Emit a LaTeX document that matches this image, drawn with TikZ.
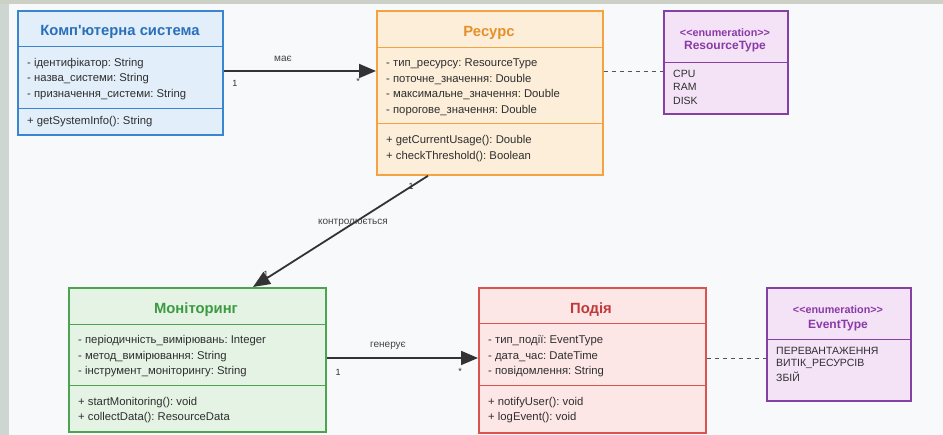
\documentclass[tikz,border=0pt]{standalone}
\usepackage{fontspec}
\setmainfont{Liberation Sans}[Ligatures=TeXOff]
\usetikzlibrary{arrows.meta}
\frenchspacing
\definecolor{bgc}{HTML}{F8F9FA}
\definecolor{leftc}{HTML}{CDD6D0}
\definecolor{topc}{HTML}{CDD0C6}
\definecolor{txt}{HTML}{2E2E2E}
\definecolor{blueB}{HTML}{3A85D0}
\definecolor{blueF}{HTML}{E2EFFA}
\definecolor{blueT}{HTML}{2A6FBA}
\definecolor{orB}{HTML}{F5A340}
\definecolor{orF}{HTML}{FDEEDA}
\definecolor{orT}{HTML}{E5902A}
\definecolor{puB}{HTML}{8440A3}
\definecolor{puF}{HTML}{F4E3F6}
\definecolor{puT}{HTML}{8A3AA6}
\definecolor{grB}{HTML}{4CA350}
\definecolor{grF}{HTML}{E5F3E5}
\definecolor{grT}{HTML}{3C9A40}
\definecolor{reB}{HTML}{D9534F}
\definecolor{reF}{HTML}{FDE6E6}
\definecolor{reT}{HTML}{C0393B}
\definecolor{arr}{HTML}{333333}
\definecolor{dash}{HTML}{555555}
\begin{document}
\begin{tikzpicture}[x=1pt,y=-1pt,
  box/.style={draw, line width=1.8pt, anchor=north west, inner sep=0pt},
  sep/.style={line width=0.8pt},
  ttl/.style={font=\bfseries\fontsize{14.8}{17}\selectfont, inner sep=0pt, yshift=-2pt},
  attr/.style={anchor=west, font=\fontsize{11.3}{13}\selectfont, text=txt, inner sep=0pt, yshift=-1.5pt},
  enumt/.style={font=\bfseries\fontsize{10.8}{12}\selectfont, text=puT, inner sep=0pt, yshift=-1pt},
  enumn/.style={font=\bfseries\fontsize{12}{14}\selectfont, text=puT, inner sep=0pt, yshift=-1pt},
  item/.style={anchor=west, font=\fontsize{10.5}{12}\selectfont, text=txt, inner sep=0pt, yshift=-1pt},
  lbl/.style={font=\fontsize{10}{12}\selectfont, text=txt!90, inner sep=0pt, yshift=-1pt},
  mult/.style={font=\fontsize{9}{10}\selectfont, text=txt, inner sep=0pt},
  assoc/.style={draw=arr, line width=1.8pt, -{Triangle[length=17pt,width=14pt]}},
  dep/.style={draw=dash, line width=0.9pt, dash pattern=on 4pt off 4pt}]
\useasboundingbox (0,0) rectangle (943,435);
\fill[bgc] (0,0) rectangle (943,435);
\fill[leftc] (0,0) rectangle (9,435);
\fill[topc] (0,0) rectangle (943,4);

% Комп'ютерна система
\node[box, draw=blueB, fill=blueF, minimum width=205pt, minimum height=124pt] (sys) at (17,10) {};
\draw[sep, blueB] (sys.west |- 0,46) -- (sys.east |- 0,46);
\draw[sep, blueB] (sys.west |- 0,108) -- (sys.east |- 0,108);
\node[ttl, text=blueT] (sysT) at (120,30) {Комп'ютерна система};
\node[attr] (sysA1) at (27,62) {- ідентифікатор: String};
\node[attr] (sysA2) at (27,77) {- назва\_системи: String};
\node[attr] (sysA3) at (27,93) {- призначення\_системи: String};
\node[attr] (sysM1) at (27,120) {+ getSystemInfo(): String};

% Ресурс
\node[box, draw=orB, fill=orF, minimum width=226pt, minimum height=164pt] (res) at (376,10) {};
\draw[sep, orB] (res.west |- 0,47) -- (res.east |- 0,47);
\draw[sep, orB] (res.west |- 0,123) -- (res.east |- 0,123);
\node[ttl, text=orT] (resT) at (489,31) {Ресурс};
\node[attr] (resA1) at (386,62) {- тип\_ресурсу: ResourceType};
\node[attr] (resA2) at (386,78) {- поточне\_значення: Double};
\node[attr] (resA3) at (386,93) {- максимальне\_значення: Double};
\node[attr] (resA4) at (386,109) {- порогове\_значення: Double};
\node[attr] (resM1) at (386,139) {+ getCurrentUsage(): Double};
\node[attr] (resM2) at (386,155) {+ checkThreshold(): Boolean};

% ResourceType
\node[box, draw=puB, fill=puF, minimum width=124pt, minimum height=103pt] (rt) at (663,10) {};
\draw[sep, puB] (rt.west |- 0,62) -- (rt.east |- 0,62);
\node[enumt] (rtS) at (725,32) {<<enumeration>>};
\node[enumn] (rtN) at (725,46) {ResourceType};
\node[item] (rtI1) at (673,73) {CPU};
\node[item] (rtI2) at (673,86) {RAM};
\node[item] (rtI3) at (673,100) {DISK};

% Моніторинг
\node[box, draw=grB, fill=grF, minimum width=257pt, minimum height=144pt] (mon) at (68,287) {};
\draw[sep, grB] (mon.west |- 0,324) -- (mon.east |- 0,324);
\draw[sep, grB] (mon.west |- 0,385) -- (mon.east |- 0,385);
\node[ttl, text=grT] (monT) at (196,308) {Моніторинг};
\node[attr] (monA1) at (78,339) {- періодичність\_вимірювань: Integer};
\node[attr] (monA2) at (78,355) {- метод\_вимірювання: String};
\node[attr] (monA3) at (78,370) {- інструмент\_моніторингу: String};
\node[attr] (monM1) at (78,401) {+ startMonitoring(): void};
\node[attr] (monM2) at (78,416) {+ collectData(): ResourceData};

% Подія
\node[box, draw=reB, fill=reF, minimum width=227pt, minimum height=145pt] (ev) at (478,287) {};
\draw[sep, reB] (ev.west |- 0,323) -- (ev.east |- 0,323);
\draw[sep, reB] (ev.west |- 0,385) -- (ev.east |- 0,385);
\node[ttl, text=reT] (evT) at (591,308) {Подія};
\node[attr] (evA1) at (488,339) {- тип\_події: EventType};
\node[attr] (evA2) at (488,355) {- дата\_час: DateTime};
\node[attr] (evA3) at (488,370) {- повідомлення: String};
\node[attr] (evM1) at (488,401) {+ notifyUser(): void};
\node[attr] (evM2) at (488,416) {+ logEvent(): void};

% EventType
\node[box, draw=puB, fill=puF, minimum width=144pt, minimum height=113pt] (et) at (766,287) {};
\draw[sep, puB] (et.west |- 0,339) -- (et.east |- 0,339);
\node[enumt] (etS) at (838,309) {<<enumeration>>};
\node[enumn] (etN) at (838,325) {EventType};
\node[item] (etI1) at (776,350) {ПЕРЕВАНТАЖЕННЯ};
\node[item] (etI2) at (776,363) {ВИТІК\_РЕСУРСІВ};
\node[item] (etI3) at (776,376) {ЗБІЙ};

% connectors
\draw[assoc] (sys.east |- 0,71) -- (res.west |- 0,71);
\node[lbl] (l1) at (283,58) {має};
\node[mult] (m1a) at (235,83) {1};
\node[mult] (m1b) at (358,81) {*};

\draw[dep] (res.east |- 0,71) -- (rt.west |- 0,71);

\node[mult] (m2b) at (266,274) {1};
\draw[assoc] (res.south -| 428,0) -- (mon.north -| 253,0);
\node[lbl] (l2) at (353,222) {контролюється};
\node[mult] (m2a) at (411,186) {1};

\draw[assoc] (mon.east |- 0,358) -- (ev.west |- 0,358);
\node[lbl] (l3) at (388,345) {генерує};
\node[mult] (m3a) at (338,372) {1};
\node[mult] (m3b) at (460,371) {*};

\draw[dep] (ev.east |- 0,358) -- (et.west |- 0,358);
\end{tikzpicture}
\end{document}
